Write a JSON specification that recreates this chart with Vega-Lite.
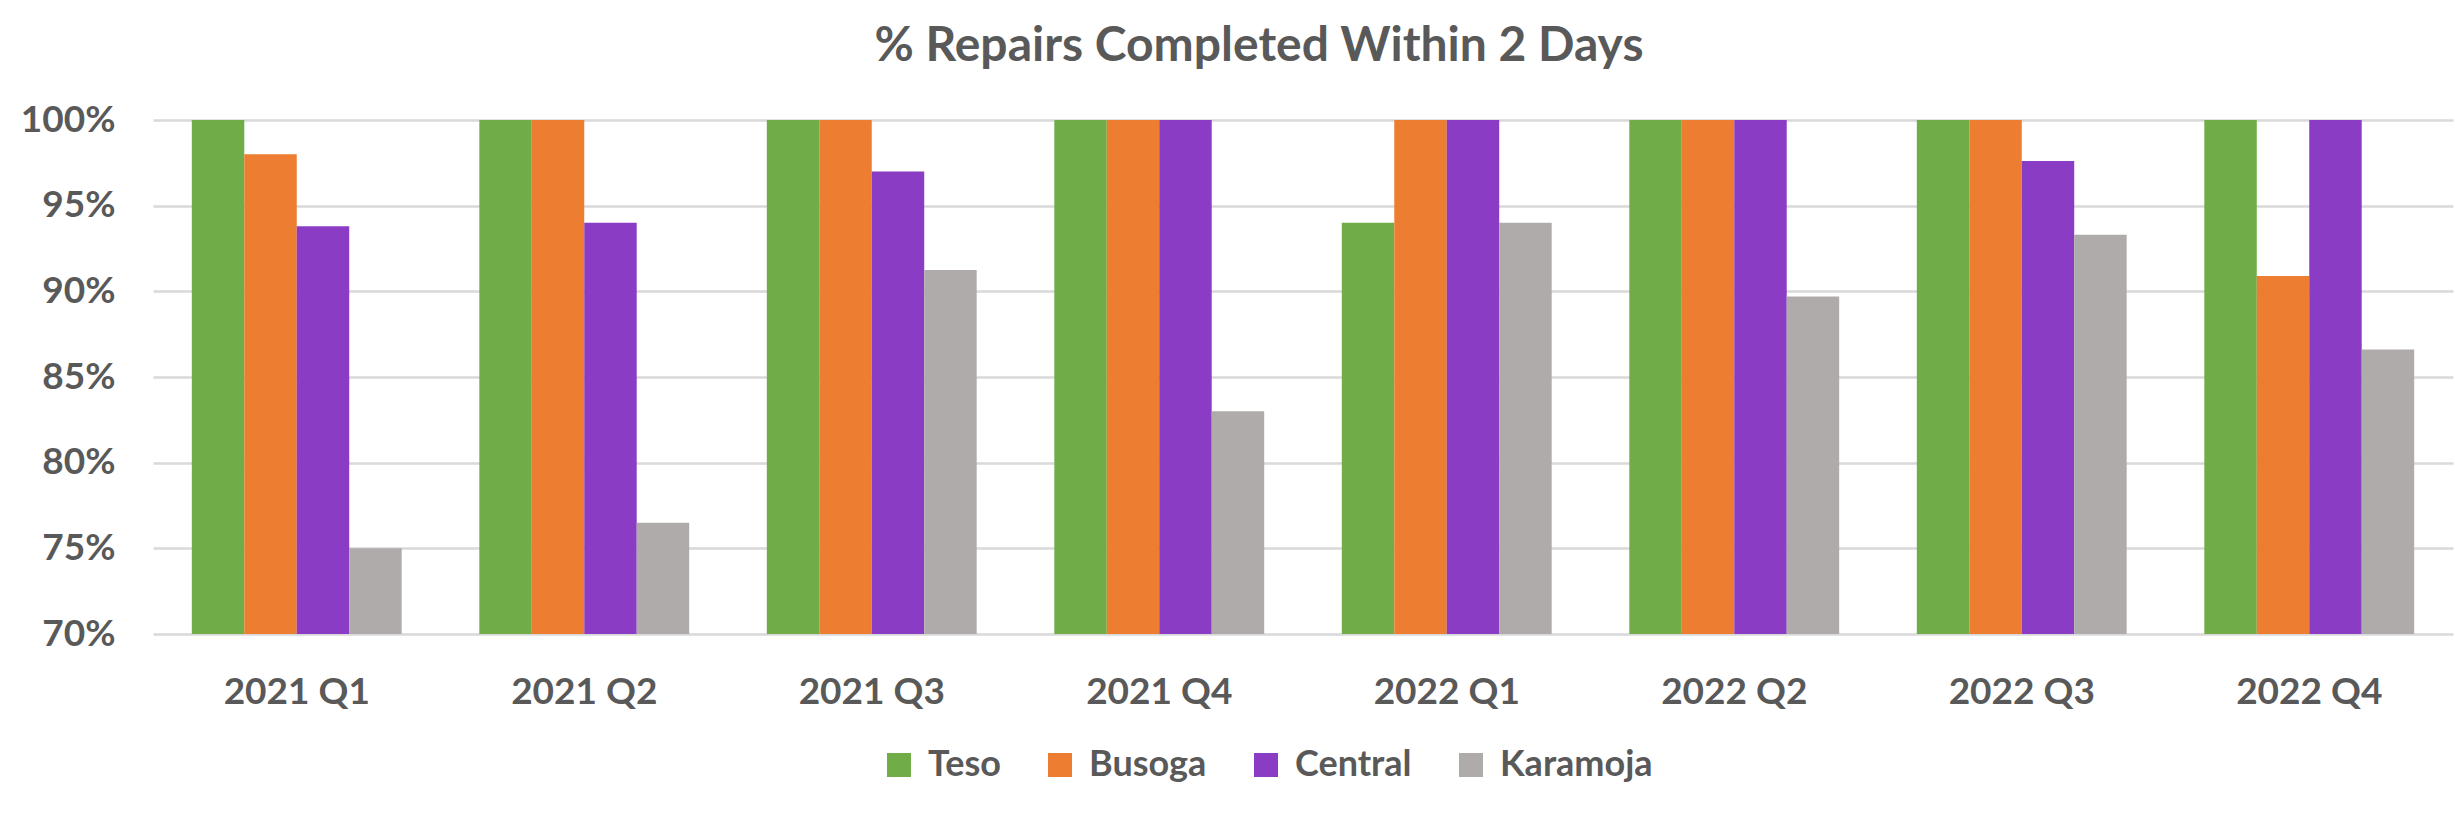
{
  "$schema": "https://vega.github.io/schema/vega-lite/v6.json",
  "autosize": {"type": "none"},
  "width": 2300,
  "height": 514,
  "padding": {"left": 153, "top": 120, "right": 2, "bottom": 182},
  "background": "white",
  "title": {
    "text": "% Repairs Completed Within 2 Days",
    "font": "Lato",
    "fontSize": 48,
    "fontWeight": "bold",
    "color": "#595959",
    "anchor": "middle",
    "frame": "group",
    "dx": -44,
    "dy": 8,
    "baseline": "alphabetic",
    "offset": 0
  },
  "data": {
    "values": [
      {"quarter": "2021 Q1", "region": "Teso", "value": 1.0},
      {"quarter": "2021 Q1", "region": "Busoga", "value": 0.98},
      {"quarter": "2021 Q1", "region": "Central", "value": 0.938},
      {"quarter": "2021 Q1", "region": "Karamoja", "value": 0.75},
      {"quarter": "2021 Q2", "region": "Teso", "value": 1.0},
      {"quarter": "2021 Q2", "region": "Busoga", "value": 1.0},
      {"quarter": "2021 Q2", "region": "Central", "value": 0.94},
      {"quarter": "2021 Q2", "region": "Karamoja", "value": 0.765},
      {"quarter": "2021 Q3", "region": "Teso", "value": 1.0},
      {"quarter": "2021 Q3", "region": "Busoga", "value": 1.0},
      {"quarter": "2021 Q3", "region": "Central", "value": 0.97},
      {"quarter": "2021 Q3", "region": "Karamoja", "value": 0.9125},
      {"quarter": "2021 Q4", "region": "Teso", "value": 1.0},
      {"quarter": "2021 Q4", "region": "Busoga", "value": 1.0},
      {"quarter": "2021 Q4", "region": "Central", "value": 1.0},
      {"quarter": "2021 Q4", "region": "Karamoja", "value": 0.83},
      {"quarter": "2022 Q1", "region": "Teso", "value": 0.94},
      {"quarter": "2022 Q1", "region": "Busoga", "value": 1.0},
      {"quarter": "2022 Q1", "region": "Central", "value": 1.0},
      {"quarter": "2022 Q1", "region": "Karamoja", "value": 0.94},
      {"quarter": "2022 Q2", "region": "Teso", "value": 1.0},
      {"quarter": "2022 Q2", "region": "Busoga", "value": 1.0},
      {"quarter": "2022 Q2", "region": "Central", "value": 1.0},
      {"quarter": "2022 Q2", "region": "Karamoja", "value": 0.897},
      {"quarter": "2022 Q3", "region": "Teso", "value": 1.0},
      {"quarter": "2022 Q3", "region": "Busoga", "value": 1.0},
      {"quarter": "2022 Q3", "region": "Central", "value": 0.976},
      {"quarter": "2022 Q3", "region": "Karamoja", "value": 0.933},
      {"quarter": "2022 Q4", "region": "Teso", "value": 1.0},
      {"quarter": "2022 Q4", "region": "Busoga", "value": 0.909},
      {"quarter": "2022 Q4", "region": "Central", "value": 1.0},
      {"quarter": "2022 Q4", "region": "Karamoja", "value": 0.866}
    ]
  },
  "config": {
    "view": {"stroke": null},
    "axis": {
      "labelFont": "Lato",
      "labelColor": "#595959",
      "labelFontWeight": "bold",
      "ticks": false,
      "domain": false,
      "title": null
    },
    "legend": {
      "labelFont": "Lato",
      "labelColor": "#595959",
      "labelFontWeight": "bold"
    }
  },
  "mark": {"type": "bar"},
  "encoding": {
    "x": {
      "field": "quarter",
      "type": "nominal",
      "sort": null,
      "scale": {"paddingInner": 0.27, "paddingOuter": 0.135},
      "axis": {"labelAngle": 0, "labelFontSize": 37, "labelPadding": 40, "grid": false}
    },
    "xOffset": {
      "field": "region",
      "type": "nominal",
      "sort": ["Teso", "Busoga", "Central", "Karamoja"],
      "scale": {"paddingInner": 0, "paddingOuter": 0}
    },
    "y": {
      "field": "value",
      "type": "quantitative",
      "scale": {"domain": [0.7, 1.0], "zero": false, "clamp": true, "nice": false},
      "axis": {
        "values": [0.7, 0.75, 0.8, 0.85, 0.9, 0.95, 1.0],
        "format": ".0%",
        "labelFontSize": 37,
        "labelPadding": 38,
        "grid": true,
        "gridColor": "#d9d9d9",
        "gridWidth": 2.5
      }
    },
    "y2": {"datum": 0.7},
    "color": {
      "field": "region",
      "type": "nominal",
      "sort": ["Teso", "Busoga", "Central", "Karamoja"],
      "scale": {
        "domain": ["Teso", "Busoga", "Central", "Karamoja"],
        "range": ["#70AD47", "#ED7D31", "#8B3CC4", "#AFABAB"]
      },
      "legend": {
        "title": null,
        "orient": "none",
        "direction": "horizontal",
        "columns": 4,
        "legendX": 728,
        "legendY": 627,
        "symbolType": "square",
        "symbolSize": 576,
        "symbolStrokeWidth": 0,
        "symbolOpacity": 1,
        "labelFontSize": 36,
        "labelOffset": 11,
        "columnPadding": 41
      }
    }
  }
}
